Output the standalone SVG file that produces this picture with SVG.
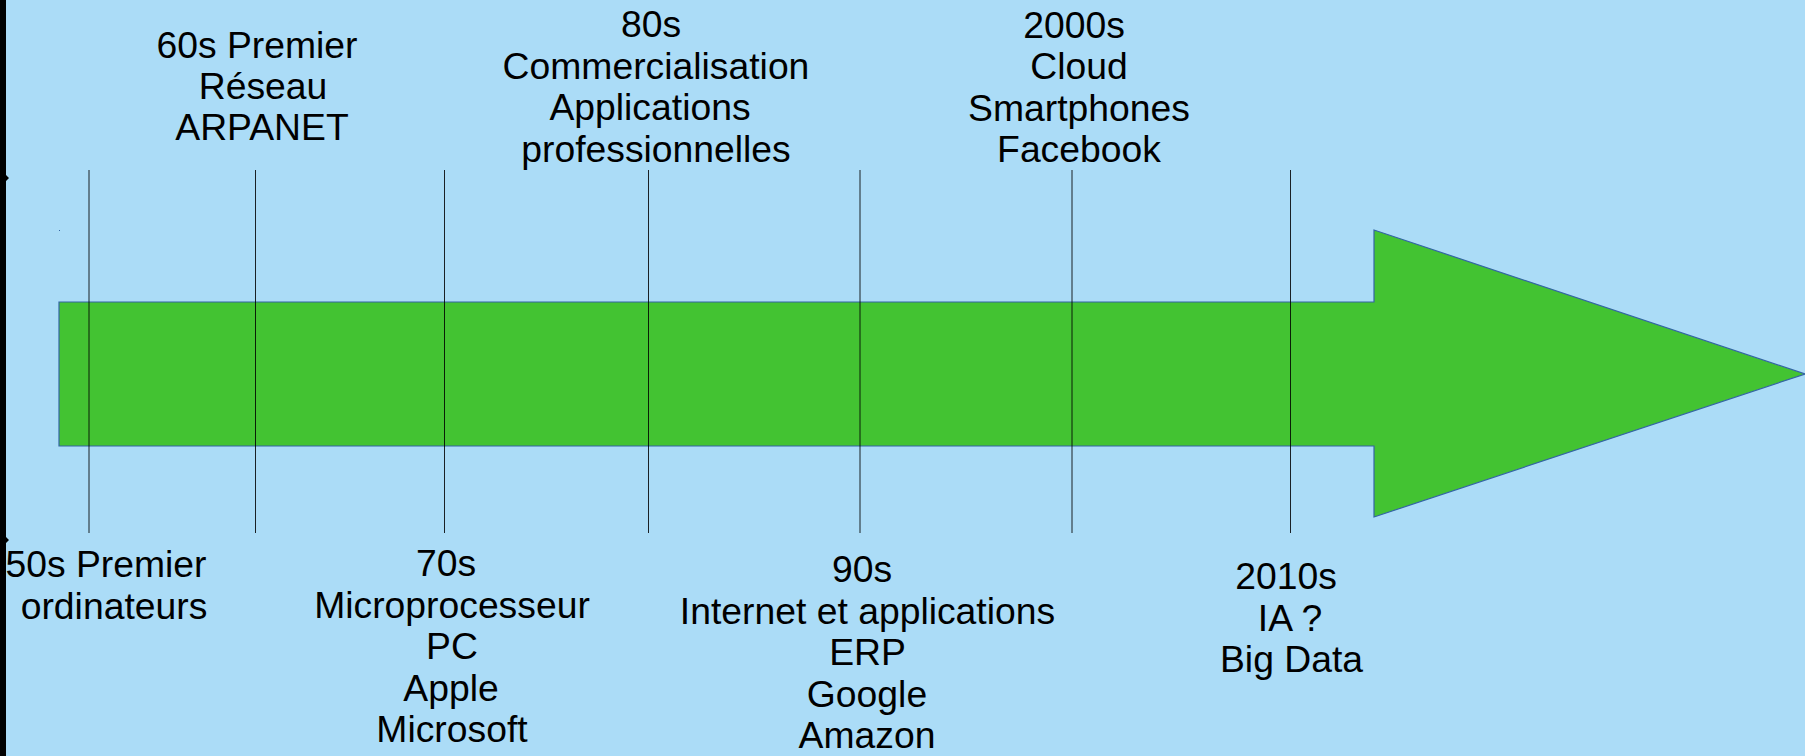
<svg xmlns="http://www.w3.org/2000/svg" width="1805" height="756" viewBox="0 0 1805 756">
<style>
.bg{fill:#abdcf7}
.arrow{fill:#43c332;stroke:#3465a4;stroke-width:1.2}
.tick{stroke:#000;stroke-width:1;stroke-opacity:0.85}
.lbl{font-family:"Liberation Sans",Arial,sans-serif;font-size:37.3px;fill:#000;text-anchor:middle}
</style>
<rect class="bg" x="0" y="0" width="1805" height="756"/>
<rect x="0" y="0" width="6" height="756" fill="#000"/>
<path d="M6,175 L9,178 L6,181 Z M6,537 L9,540 L6,543 Z" fill="#000"/>
<rect x="59" y="230" width="1" height="1" fill="#3465a4"/>
<g id="timeline-arrow">
<polygon class="arrow" points="59,302 1374,302 1374,230 1805,374 1374,517 1374,446 59,446"/>
</g>
<g id="connectors">
<line class="tick" x1="89" y1="170" x2="89" y2="533"/>
<line class="tick" x1="255.5" y1="170" x2="255.5" y2="533"/>
<line class="tick" x1="444.5" y1="170" x2="444.5" y2="533"/>
<line class="tick" x1="648.5" y1="170" x2="648.5" y2="533"/>
<line class="tick" x1="860" y1="170" x2="860" y2="533"/>
<line class="tick" x1="1072" y1="170" x2="1072" y2="533"/>
<line class="tick" x1="1290.5" y1="170" x2="1290.5" y2="533"/>
</g>
<g id="node-50s">
<text class="lbl"><tspan x="106" y="577">50s Premier</tspan><tspan x="114" y="618.5">ordinateurs</tspan></text>
</g>
<g id="node-60s">
<text class="lbl"><tspan x="257" y="58">60s Premier</tspan><tspan x="263" y="99">Réseau</tspan><tspan x="262" y="140">ARPANET</tspan></text>
</g>
<g id="node-70s">
<text class="lbl"><tspan x="446" y="576">70s</tspan><tspan x="452" y="617.5">Microprocesseur</tspan><tspan x="452" y="659">PC</tspan><tspan x="451" y="700.5">Apple</tspan><tspan x="452" y="742">Microsoft</tspan></text>
</g>
<g id="node-80s">
<text class="lbl"><tspan x="651" y="37">80s</tspan><tspan x="656" y="78.5">Commercialisation</tspan><tspan x="650" y="120">Applications</tspan><tspan x="656" y="161.5">professionnelles</tspan></text>
</g>
<g id="node-90s">
<text class="lbl"><tspan x="862" y="582">90s</tspan><tspan x="867.5" y="623.5">Internet et applications</tspan><tspan x="867.5" y="665">ERP</tspan><tspan x="867" y="706.5">Google</tspan><tspan x="867" y="748">Amazon</tspan></text>
</g>
<g id="node-2000s">
<text class="lbl"><tspan x="1074" y="37.5">2000s</tspan><tspan x="1079" y="79">Cloud</tspan><tspan x="1079" y="120.5">Smartphones</tspan><tspan x="1079" y="162">Facebook</tspan></text>
</g>
<g id="node-2010s">
<text class="lbl"><tspan x="1286" y="589">2010s</tspan><tspan x="1290" y="630.5">IA ?</tspan><tspan x="1291.5" y="672">Big Data</tspan></text>
</g>
</svg>
